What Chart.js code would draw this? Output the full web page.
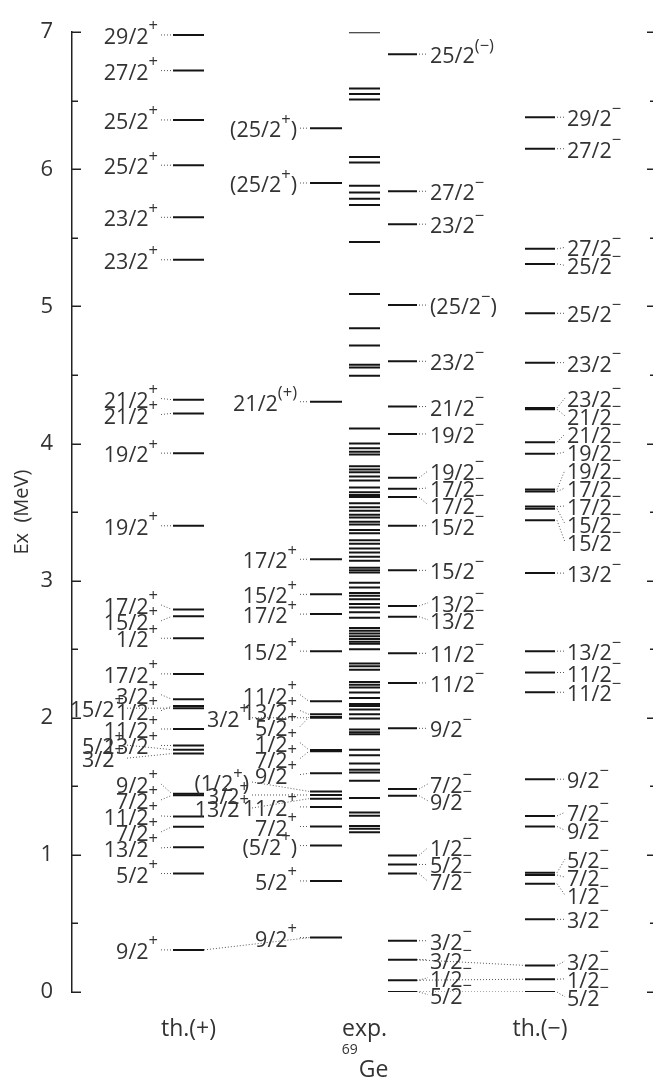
<!DOCTYPE html>
<html><head><meta charset="utf-8"><title>69Ge level scheme</title>
<script src="https://cdn.jsdelivr.net/npm/chart.js@4.4.1/dist/chart.umd.min.js"></script>
<style>html,body{margin:0;padding:0;background:#fff;overflow:hidden}#box{position:relative;width:653px;height:1083px}</style>
</head><body><div id="box"><canvas id="chart" width="653" height="1083"></canvas></div>
<script>
// ---------------- data (MeV) ----------------
const thPosEnergies = [6.98, 6.72, 6.36, 6.03, 5.65, 5.34, 4.32, 4.22, 3.93, 3.40, 2.79, 2.74, 2.58, 2.32, 2.135, 2.085, 2.07, 1.918, 1.798, 1.767, 1.739, 1.445, 1.435, 1.28, 1.205, 1.056, 0.864, 0.307];
const thPosSpins = ["29/2^{+}", "27/2^{+}", "25/2^{+}", "25/2^{+}", "23/2^{+}", "23/2^{+}", "21/2^{+}", "21/2^{+}", "19/2^{+}", "19/2^{+}", "17/2^{+}", "15/2^{+}", "1/2^{+}", "17/2^{+}", "3/2^{+}", "1/2^{+}", "15/2^{+}", "11/2^{+}", "13/2^{+}", "5/2^{+}", "3/2^{+}", "9/2^{+}", "7/2^{+}", "11/2^{+}", "7/2^{+}", "13/2^{+}", "5/2^{+}", "9/2^{+}"];

const expPosEnergies = [6.30, 5.90, 4.305, 3.156, 2.90, 2.756, 2.486, 2.12, 2.025, 2.005, 2.00, 1.765, 1.755, 1.595, 1.463, 1.437, 1.41, 1.35, 1.207, 1.068, 0.81, 0.397];
const expPosSpins = ["(25/2^{+})", "(25/2^{+})", "21/2^{(+)}", "17/2^{+}", "15/2^{+}", "17/2^{+}", "15/2^{+}", "11/2^{+}", "13/2^{+}", "5/2^{+}", "3/2^{+}", "1/2^{+}", "7/2^{+}", "9/2^{+}", "(1/2^{+})", "3/2^{+}", "13/2^{+}", "11/2^{+}", "7/2^{+}", "(5/2^{+})", "5/2^{+}", "9/2^{+}"];

const expAllEnergies = [7.00, 6.59, 6.55, 6.51, 6.09, 6.05, 5.88, 5.83, 5.785, 5.74, 5.47, 5.09, 4.84, 4.715, 4.575, 4.555, 4.495, 4.11, 4.00, 3.965, 3.94, 3.92, 3.835, 3.81, 3.79, 3.76, 3.73, 3.68, 3.645, 3.625, 3.61, 3.565, 3.535, 3.51, 3.48, 3.46, 3.43, 3.41, 3.37, 3.345, 3.295, 3.27, 3.235, 3.205, 3.175, 3.145, 3.095, 3.075, 3.06, 2.985, 2.95, 2.91, 2.89, 2.865, 2.83, 2.805, 2.77, 2.73, 2.655, 2.635, 2.615, 2.595, 2.575, 2.555, 2.54, 2.50, 2.395, 2.375, 2.35, 2.26, 2.24, 2.22, 2.185, 2.145, 2.10, 2.085, 2.06, 2.025, 1.995, 1.915, 1.895, 1.88, 1.767, 1.726, 1.667, 1.62, 1.60, 1.54, 1.415, 1.31, 1.285, 1.21, 1.19, 1.165];

const expNegEnergies = [6.84, 5.84, 5.60, 5.01, 4.60, 4.27, 4.07, 3.75, 3.67, 3.61, 3.40, 3.075, 2.816, 2.737, 2.47, 2.254, 1.923, 1.48, 1.432, 0.996, 0.93, 0.864, 0.374, 0.235, 0.086, 0.0];
const expNegSpins = ["25/2^{(−)}", "27/2^{−}", "23/2^{−}", "(25/2^{−})", "23/2^{−}", "21/2^{−}", "19/2^{−}", "19/2^{−}", "17/2^{−}", "17/2^{−}", "15/2^{−}", "15/2^{−}", "13/2^{−}", "13/2^{−}", "11/2^{−}", "11/2^{−}", "9/2^{−}", "7/2^{−}", "9/2^{−}", "1/2^{−}", "5/2^{−}", "7/2^{−}", "3/2^{−}", "3/2^{−}", "1/2^{−}", "5/2^{−}"];

const thNegEnergies = [6.38, 6.15, 5.42, 5.31, 4.95, 4.59, 4.26, 4.25, 4.01, 3.925, 3.665, 3.65, 3.54, 3.525, 3.44, 3.055, 2.486, 2.33, 2.186, 1.552, 1.284, 1.207, 0.87, 0.853, 0.79, 0.53, 0.194, 0.093, 0.0];
const thNegSpins = ["29/2^{−}", "27/2^{−}", "27/2^{−}", "25/2^{−}", "25/2^{−}", "23/2^{−}", "23/2^{−}", "21/2^{−}", "21/2^{−}", "19/2^{−}", "19/2^{−}", "17/2^{−}", "17/2^{−}", "15/2^{−}", "15/2^{−}", "13/2^{−}", "13/2^{−}", "11/2^{−}", "11/2^{−}", "9/2^{−}", "7/2^{−}", "9/2^{−}", "5/2^{−}", "7/2^{−}", "1/2^{−}", "3/2^{−}", "3/2^{−}", "1/2^{−}", "5/2^{−}"];

const yTickValues = [0, 1, 2, 3, 4, 5, 6, 7];
const yAxisTitle = "Ex  (MeV)";
const columnTitles = {thPos: "th.(+)", expAll: "exp.", thNeg: "th.(−)"};
const nucleusMass = "69";
const nucleusSymbol = "Ge";
// dotted correspondences between columns: [column, level index] -> [column, level index]
const links = [
  [["thPos", 27], ["expPos", 21]],
  [["expNeg", 23], ["thNeg", 26]],
  [["expNeg", 24], ["thNeg", 27]],
  [["expNeg", 25], ["thNeg", 28]]
];

// ---------------- layout / style ----------------
const FONT = "'Open Sans', 'DejaVu Sans', sans-serif";
const TEXT = '#333';
const LABEL_SIZE = 21.5, SUP_SIZE = 16.5;
const series = {
  thPos:  {E: thPosEnergies,  J: thPosSpins},
  expPos: {E: expPosEnergies, J: expPosSpins},
  expAll: {E: expAllEnergies, J: null},
  expNeg: {E: expNegEnergies, J: expNegSpins},
  thNeg:  {E: thNegEnergies,  J: thNegSpins}
};
const cols = {
  thPos:  {x0: 101, x1: 132, side: 'left',  off: 15, gap: 16, lane1: {idx: [16, 19, 20], dx: -34, gap: 13}},
  expPos: {x0: 238, x1: 270, side: 'left',  off: 13, gap: 16, lane1: {idx: [10, 14, 15, 16], dx: -48, gap: 13}},
  expAll: {x0: 277, x1: 308},
  expNeg: {x0: 316, x1: 345, side: 'right', off: 13, gap: 17},
  thNeg:  {x0: 453, x1: 483, side: 'right', off: 12, gap: 18}
};

const datasets = [];
for (const key of Object.keys(series)) {
  series[key].E.forEach(e => {
    datasets.push({data: [{x: cols[key].x0, y: e}, {x: cols[key].x1, y: e}], showLine: true,
      borderColor: '#141414', borderWidth: 2, pointRadius: 0, borderCapStyle: 'butt'});
  });
}
links.forEach(([a, b]) => {
  datasets.push({data: [{x: cols[a[0]].x1, y: series[a[0]].E[a[1]]}, {x: cols[b[0]].x0, y: series[b[0]].E[b[1]]}],
    showLine: true, borderColor: '#555', borderWidth: 1, borderDash: [1, 2], pointRadius: 0});
});

function parseLabel(s) {
  const segs = []; const re = /\^\{([^}]*)\}/g; let last = 0, m;
  while ((m = re.exec(s))) {
    if (m.index > last) segs.push({t: s.slice(last, m.index), sup: false});
    segs.push({t: m[1], sup: true}); last = re.lastIndex;
  }
  if (last < s.length) segs.push({t: s.slice(last), sup: false});
  return segs;
}
function drawLabel(ctx, s, x, rowY, align) {
  const segs = parseLabel(s);
  const mf = `${LABEL_SIZE}px ${FONT}`, sf = `${SUP_SIZE}px ${FONT}`;
  let w = 0;
  segs.forEach(g => { ctx.font = g.sup ? sf : mf; g.w = ctx.measureText(g.t).width; w += g.w; });
  let cx = align === 'right' ? x - w : x;
  const base = rowY + 9;
  ctx.textAlign = 'left'; ctx.textBaseline = 'alphabetic';
  segs.forEach(g => { ctx.font = g.sup ? sf : mf; ctx.fillText(g.t, cx, g.sup ? base - 12.5 : base); cx += g.w; });
  return w;
}
function declutter(targets, gap) {
  const groups = [];
  targets.forEach(t => {
    groups.push({n: 1, sum: t, top: t});
    while (groups.length > 1) {
      const b = groups[groups.length - 1], a = groups[groups.length - 2];
      if (b.top < a.top + a.n * gap) {
        a.sum += b.sum - a.n * gap * b.n; a.n += b.n; a.top = a.sum / a.n; groups.pop();
      } else break;
    }
  });
  const rows = [];
  groups.forEach(g => { for (let k = 0; k < g.n; k++) rows.push(g.top + k * gap); });
  return rows;
}
function dotted(ctx, x1, y1, x2, y2) {
  ctx.save(); ctx.strokeStyle = '#555'; ctx.lineWidth = 1; ctx.setLineDash([1, 2]);
  ctx.beginPath(); ctx.moveTo(x1, y1); ctx.lineTo(x2, y2); ctx.stroke(); ctx.restore();
}

const levelLabels = {
  id: 'levelLabels',
  afterDatasetsDraw(chart) {
    const {ctx, scales: {x, y}} = chart;
    ctx.save(); ctx.fillStyle = TEXT;
    for (const key of ['thPos', 'expPos', 'expNeg', 'thNeg']) {
      const col = cols[key], E = series[key].E, J = series[key].J;
      const lanes = [[], []];
      E.forEach((e, i) => {
        const lane = col.lane1 && col.lane1.idx.includes(i) ? 1 : 0;
        lanes[lane].push({i, t: y.getPixelForValue(e)});
      });
      lanes.forEach((arr, l) => {
        if (!arr.length) return;
        arr.sort((a, b) => a.t - b.t);
        const rows = declutter(arr.map(a => a.t), l ? col.lane1.gap : col.gap);
        arr.forEach((a, k) => {
          const rowY = rows[k];
          if (col.side === 'left') {
            const lx = x.getPixelForValue(col.x0);
            const edge = lx - col.off + (l ? col.lane1.dx : 0);
            drawLabel(ctx, J[a.i], edge, rowY, 'right');
            dotted(ctx, edge + 3, rowY, lx - 1, a.t);
          } else {
            const lx = x.getPixelForValue(col.x1);
            const edge = lx + col.off;
            drawLabel(ctx, J[a.i], edge, rowY, 'left');
            dotted(ctx, lx + 2, a.t, edge - 2, rowY);
          }
        });
      });
    }
    ctx.restore();
  },
  afterDraw(chart) {
    const {ctx, scales: {x, y}, chartArea} = chart;
    ctx.save();
    // inward ticks, left and right
    ctx.strokeStyle = '#222'; ctx.lineWidth = 1.5;
    for (let v = 0; v <= 7.0001; v += 0.5) {
      const py = Math.round(y.getPixelForValue(v)) + 0.25;
      const major = Math.abs(v - Math.round(v)) < 1e-6;
      ctx.beginPath(); ctx.moveTo(chartArea.left, py); ctx.lineTo(chartArea.left + (major ? 9 : 6), py); ctx.stroke();
      ctx.beginPath(); ctx.moveTo(chart.width, py); ctx.lineTo(chart.width - (major ? 6 : 3), py); ctx.stroke();
    }
    ctx.fillStyle = TEXT;
    // y-axis title
    ctx.save();
    ctx.translate(22, (chartArea.top + chartArea.bottom) / 2);
    ctx.rotate(-Math.PI / 2);
    ctx.font = `20px ${FONT}`; ctx.textAlign = 'center'; ctx.textBaseline = 'middle';
    ctx.fillText(yAxisTitle, 0, 0);
    ctx.restore();
    // column titles
    ctx.textAlign = 'center'; ctx.textBaseline = 'alphabetic';
    ctx.font = `23px ${FONT}`;
    for (const key of Object.keys(columnTitles)) {
      const cx = x.getPixelForValue((cols[key].x0 + cols[key].x1) / 2);
      ctx.fillText(columnTitles[key], cx, 1036);
    }
    // nucleus
    const cx = x.getPixelForValue((cols.expAll.x0 + cols.expAll.x1) / 2);
    ctx.font = `23px ${FONT}`; const wS = ctx.measureText(nucleusSymbol).width;
    ctx.font = `14px ${FONT}`; const wM = ctx.measureText(nucleusMass).width;
    const start = cx - (wS + wM) / 2;
    ctx.textAlign = 'left';
    ctx.fillText(nucleusMass, start, 1054);
    ctx.font = `23px ${FONT}`;
    ctx.fillText(nucleusSymbol, start + wM + 1, 1077);
    ctx.restore();
  }
};

new Chart(document.getElementById('chart'), {
  type: 'scatter',
  data: {datasets},
  options: {
    responsive: false, animation: false, devicePixelRatio: 1,
    layout: {padding: {left: 0, right: 0, top: 17, bottom: 91}},
    plugins: {legend: {display: false}, tooltip: {enabled: false}},
    scales: {
      x: {type: 'linear', min: 0, max: 581, display: false},
      y: {
        type: 'linear', min: 0, max: 7, position: 'left',
        afterFit(scale) { scale.width = 72; },
        afterBuildTicks(scale) { scale.ticks = yTickValues.map(v => ({value: v})); },
        ticks: {font: {family: FONT, size: 22}, color: '#333', padding: 19},
        grid: {display: false, drawTicks: false},
        border: {display: true, color: '#222', width: 1.5},
        title: {display: false, text: yAxisTitle}
      }
    }
  },
  plugins: [levelLabels]
});
</script></body></html>
